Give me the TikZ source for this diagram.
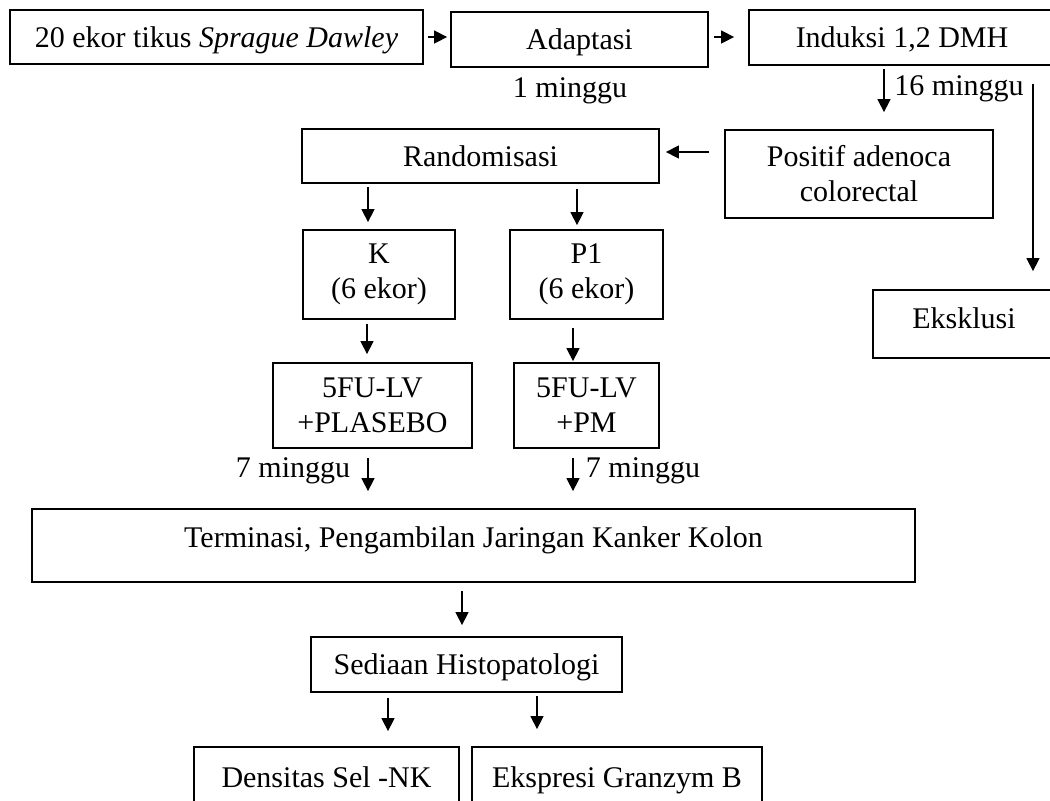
\documentclass[tikz,border=0pt]{standalone}
\usepackage{fontspec}
\setmainfont{Liberation Serif}
\usetikzlibrary{arrows.meta}

\begin{document}
\begin{tikzpicture}[x=0.5pt, y=-0.5pt,
    block/.style={draw, line width=0.9pt, inner sep=2pt, align=center,
                  font=\fontsize{15}{17.5}\selectfont},
    oneline/.style={text height=11pt, text depth=1pt},
    lbl/.style={inner sep=0pt, text height=11pt, text depth=1pt,
                font=\fontsize{15}{17.5}\selectfont},
    arr/.style={-{Triangle[length=6.5pt, width=6.5pt]}, line width=0.7pt}
  ]
    \useasboundingbox (0,0) rectangle (1050,800);
    \clip (0,0) rectangle (1050,800);

    \node[block, oneline, minimum width=206.5pt, minimum height=27pt] (tikus) at (216.5, 37)
      {20 ekor tikus \textit{Sprague Dawley}};
    \node[block, oneline, minimum width=128.5pt, minimum height=27.5pt] (adapt) at (579.5, 39.5)
      {Adaptasi};
    \node[block, oneline, minimum width=153pt, minimum height=27.5pt] (induksi) at (902, 37.5)
      {Induksi 1,2 DMH};
    \node[block, minimum width=134pt, minimum height=44pt] (positif) at (859, 174)
      {Positif adenoca\\colorectal};
    \node[block, oneline, minimum width=178.5pt, minimum height=27pt] (rand) at (480.5, 156)
      {Randomisasi};
    \node[block, oneline, text depth=7pt, minimum width=91pt, minimum height=34pt] (eksklusi) at (964, 324)
      {Eksklusi};
    \node[block, minimum width=76pt, minimum height=44.5pt] (K) at (379, 274.5)
      {K\\(6 ekor)};
    \node[block, minimum width=76.5pt, minimum height=44.5pt] (P1) at (586.5, 274.5)
      {P1\\(6 ekor)};
    \node[block, minimum width=99.5pt, minimum height=42.5pt] (plasebo) at (372.5, 405.5)
      {5FU-LV\\+PLASEBO};
    \node[block, minimum width=72.5pt, minimum height=42.5pt] (pm) at (586.5, 405.5)
      {5FU-LV\\+PM};
    \node[block, oneline, text depth=9.5pt, minimum width=441.5pt, minimum height=36.5pt] (term) at (473.5, 545.5)
      {Terminasi, Pengambilan Jaringan Kanker Kolon};
    \node[block, oneline, minimum width=155.5pt, minimum height=27.5pt] (sediaan) at (466.5, 664.5)
      {Sediaan Histopatologi};
    \node[block, oneline, minimum width=132.5pt, minimum height=30pt] (densitas) at (326.5, 777)
      {Densitas Sel -NK};
    \node[block, oneline, minimum width=145pt, minimum height=30pt] (ekspresi) at (617, 777)
      {Ekspresi Granzym B};

    \node[lbl] (w1) at (570, 87) {1 minggu};
    \node[lbl] (w16) at (959, 85) {16 minggu};
    \node[lbl] (w7a) at (293, 467) {7 minggu};
    \node[lbl] (w7b) at (643, 467) {7 minggu};

    \draw[arr, shorten <=2pt, shorten >=1.5pt]
      (tikus.east) -- ([yshift=1.25pt]adapt.west);
    \draw[arr, shorten <=2.5pt, shorten >=7pt]
      ([yshift=1.25pt]adapt.east) -- ([yshift=0.25pt]induksi.west);
    \draw[arr, shorten <=1.5pt, shorten >=8.5pt]
      ([xshift=-9pt]induksi.south) -- ([xshift=12.5pt]positif.north);
    \draw[arr, shorten <=9pt, shorten >=9pt]
      ([xshift=65.5pt]induksi.south) -- ([xshift=34.5pt]eksklusi.north);
    \draw[arr, shorten <=7.5pt, shorten >=3pt]
      ([yshift=11pt]positif.west) -- ([yshift=2pt]rand.east);
    \draw[arr, shorten <=1.5pt, shorten >=3.5pt]
      ([xshift=-56.25pt]rand.south) -- ([xshift=-5.5pt]K.north);
    \draw[arr, shorten <=2.5pt, shorten >=2pt]
      ([xshift=48.25pt]rand.south) -- ([xshift=-4.75pt]P1.north);
    \draw[arr, shorten <=2pt, shorten >=4pt]
      ([xshift=-6pt]K.south) -- ([xshift=-2.75pt]plasebo.north);
    \draw[arr, shorten <=4pt, shorten >=0.5pt]
      ([xshift=-6.75pt]P1.south) -- ([xshift=-6.75pt]pm.north);
    \draw[arr, shorten <=4.5pt, shorten >=8.5pt]
      ([xshift=-2.25pt]plasebo.south) -- ([xshift=-52.75pt]term.north);
    \draw[arr, shorten <=4.5pt, shorten >=8.5pt]
      ([xshift=-6.75pt]pm.south) -- ([xshift=49.75pt]term.north);
    \draw[arr, shorten <=4pt, shorten >=5.5pt]
      ([xshift=-5.75pt]term.south) -- ([xshift=-2.25pt]sediaan.north);
    \draw[arr, shorten <=2.5pt, shorten >=7.5pt]
      ([xshift=-39.25pt]sediaan.south) -- ([xshift=30.75pt]densitas.north);
    \draw[arr, shorten <=1.5pt, shorten >=8.5pt]
      ([xshift=35.25pt]sediaan.south) -- ([xshift=-40pt]ekspresi.north);
  \end{tikzpicture}
\end{document}
